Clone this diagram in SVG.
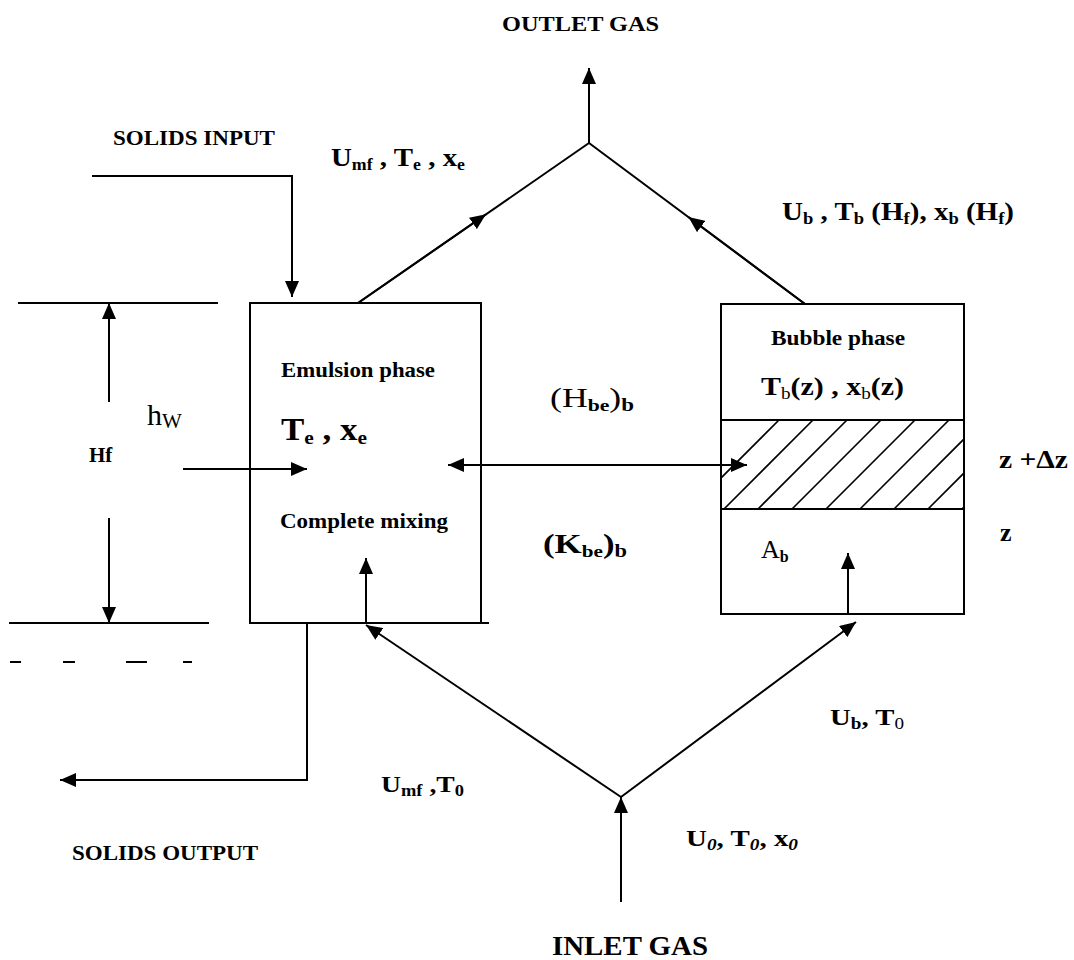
<svg xmlns="http://www.w3.org/2000/svg" width="1074" height="960" viewBox="0 0 1074 960">
<defs>
<style>
text{font-family:"Liberation Serif","Times New Roman",serif;fill:#000}
.b{font-weight:bold}
.ln{fill:none;stroke:#000;stroke-width:2}
.box{fill:#fff;stroke:#000;stroke-width:2}
.hatch{stroke:#000;stroke-width:1.6}
</style>
<marker id="ah" markerUnits="userSpaceOnUse" markerWidth="16" markerHeight="14" refX="16" refY="7" orient="auto-start-reverse" viewBox="0 0 16 14">
<path d="M0,0 L16,7 L0,14 z" fill="#000"/>
</marker>
<clipPath id="band"><rect x="721" y="420" width="243" height="89"/></clipPath>
</defs>
<rect width="1074" height="960" fill="#fff"/>

<g id="emulsion">
<rect class="box" x="250" y="303" width="231" height="320"/>
<path class="ln" d="M481,623 H489"/>
<text class="b" x="281" y="377" font-size="21" textLength="154" lengthAdjust="spacingAndGlyphs">Emulsion phase</text>
<text class="b" x="281" y="440" font-size="31" textLength="86" lengthAdjust="spacingAndGlyphs">T<tspan font-size="19" dy="4">e</tspan><tspan dy="-4"> , x</tspan><tspan font-size="19" dy="4">e</tspan></text>
<text class="b" x="280" y="528" font-size="21" textLength="168" lengthAdjust="spacingAndGlyphs">Complete mixing</text>
</g>

<g id="bubble">
<rect class="box" x="721" y="304" width="243" height="310"/>
<g clip-path="url(#band)">
<path class="hatch" d="M690,509 L779,420 M724,509 L813,420 M758,509 L847,420 M792,509 L881,420 M826,509 L915,420 M860,509 L949,420 M894,509 L983,420 M928,509 L1017,420 M962,509 L1051,420"/>
</g>
<path class="ln" d="M721,420 H964 M721,509 H964"/>
<text class="b" x="771" y="345" font-size="21" textLength="134" lengthAdjust="spacingAndGlyphs">Bubble phase</text>
<text class="b" x="761" y="395" font-size="25" textLength="143" lengthAdjust="spacingAndGlyphs">T<tspan font-size="16" font-weight="normal" dy="4">b</tspan><tspan dy="-4">(z) , x</tspan><tspan font-size="16" font-weight="normal" dy="4">b</tspan><tspan dy="-4">(z)</tspan></text>
<text x="761" y="558" font-size="26">A<tspan class="b" font-size="16" dy="4">b</tspan></text>
</g>

<g id="dimension">
<path class="ln" d="M18,303 H218 M9,623 H209"/>
<path class="ln" d="M109,402 V303" marker-end="url(#ah)"/>
<path class="ln" d="M109,518 V623" marker-end="url(#ah)"/>
<text class="b" x="89" y="462" font-size="21">Hf</text>
<text x="147" y="425" font-size="30">h<tspan font-size="21" dy="3">W</tspan></text>
<path d="M10,662 H21 M63,662 H75 M126,662 H147 M183,662 H192" stroke="#000" stroke-width="2"/>
</g>

<g id="connectors">
<path class="ln" d="M92,176 H292 V297" marker-end="url(#ah)"/>
<path class="ln" d="M589,143 V68" marker-end="url(#ah)"/>
<path class="ln" d="M358,303 L589,143"/>
<path class="ln" d="M358,303 L486,214.3" marker-end="url(#ah)"/>
<path class="ln" d="M805,304 L589,143"/>
<path class="ln" d="M805,304 L688.4,217" marker-end="url(#ah)"/>
<path class="ln" d="M621,902 V797" marker-end="url(#ah)"/>
<path class="ln" d="M621,797 L366,625" marker-end="url(#ah)"/>
<path class="ln" d="M621,797 L856,622" marker-end="url(#ah)"/>
<path class="ln" d="M366,623 V558" marker-end="url(#ah)"/>
<path class="ln" d="M848,614 V553" marker-end="url(#ah)"/>
<path class="ln" d="M183,469 H307" marker-end="url(#ah)"/>
<path class="ln" d="M448,465 H747" marker-start="url(#ah)" marker-end="url(#ah)"/>
<path class="ln" d="M307,623 V780 H60" marker-end="url(#ah)"/>
</g>

<g id="labels">
<text class="b" x="502" y="31" font-size="22" textLength="157" lengthAdjust="spacingAndGlyphs">OUTLET  GAS</text>
<text class="b" x="113" y="145" font-size="21" textLength="162" lengthAdjust="spacingAndGlyphs">SOLIDS INPUT</text>
<text class="b" x="331" y="166" font-size="26" textLength="134" lengthAdjust="spacingAndGlyphs">U<tspan font-size="16" dy="4">mf</tspan><tspan dy="-4"> , T</tspan><tspan font-size="16" dy="4">e</tspan><tspan dy="-4"> , x</tspan><tspan font-size="16" dy="4">e</tspan></text>
<text class="b" x="782" y="220" font-size="25" textLength="232" lengthAdjust="spacingAndGlyphs">U<tspan font-size="16" dy="4">b</tspan><tspan dy="-4"> , T</tspan><tspan font-size="16" dy="4">b</tspan><tspan dy="-4"> (H</tspan><tspan font-size="16" dy="4">f</tspan><tspan dy="-4">), x</tspan><tspan font-size="16" dy="4">b</tspan><tspan dy="-4"> (H</tspan><tspan font-size="16" dy="4">f</tspan><tspan dy="-4">)</tspan></text>
<text x="550" y="407" font-size="28" textLength="84" lengthAdjust="spacingAndGlyphs">(H<tspan class="b" font-size="17" dy="4">be</tspan><tspan dy="-4">)</tspan><tspan class="b" font-size="18" dy="4">b</tspan></text>
<text class="b" x="543" y="553" font-size="28" textLength="84" lengthAdjust="spacingAndGlyphs">(K<tspan font-size="17" dy="4">be</tspan><tspan dy="-4">)</tspan><tspan font-size="18" dy="4">b</tspan></text>
<text class="b" x="999" y="468" font-size="26" textLength="69" lengthAdjust="spacingAndGlyphs">z +Δz</text>
<text class="b" x="1000" y="541" font-size="26">z</text>
<text class="b" x="830" y="725" font-size="24" textLength="74" lengthAdjust="spacingAndGlyphs">U<tspan font-size="16" dy="4">b</tspan><tspan dy="-4">, T</tspan><tspan font-size="16" font-weight="normal" dy="4">0</tspan></text>
<text class="b" x="381" y="792" font-size="24" textLength="83" lengthAdjust="spacingAndGlyphs">U<tspan font-size="16" dy="4">mf</tspan><tspan dy="-4"> ,T</tspan><tspan font-size="16" dy="4">0</tspan></text>
<text class="b" x="686" y="846" font-size="24" textLength="112" lengthAdjust="spacingAndGlyphs">U<tspan font-size="16" font-style="italic" dy="4">0</tspan><tspan dy="-4">, T</tspan><tspan font-size="16" font-style="italic" dy="4">0</tspan><tspan dy="-4">, x</tspan><tspan font-size="16" font-style="italic" dy="4">0</tspan></text>
<text class="b" x="72" y="860" font-size="21" textLength="186" lengthAdjust="spacingAndGlyphs">SOLIDS OUTPUT</text>
<text class="b" x="552" y="955" font-size="27" textLength="156" lengthAdjust="spacingAndGlyphs">INLET GAS</text>
</g>
</svg>
